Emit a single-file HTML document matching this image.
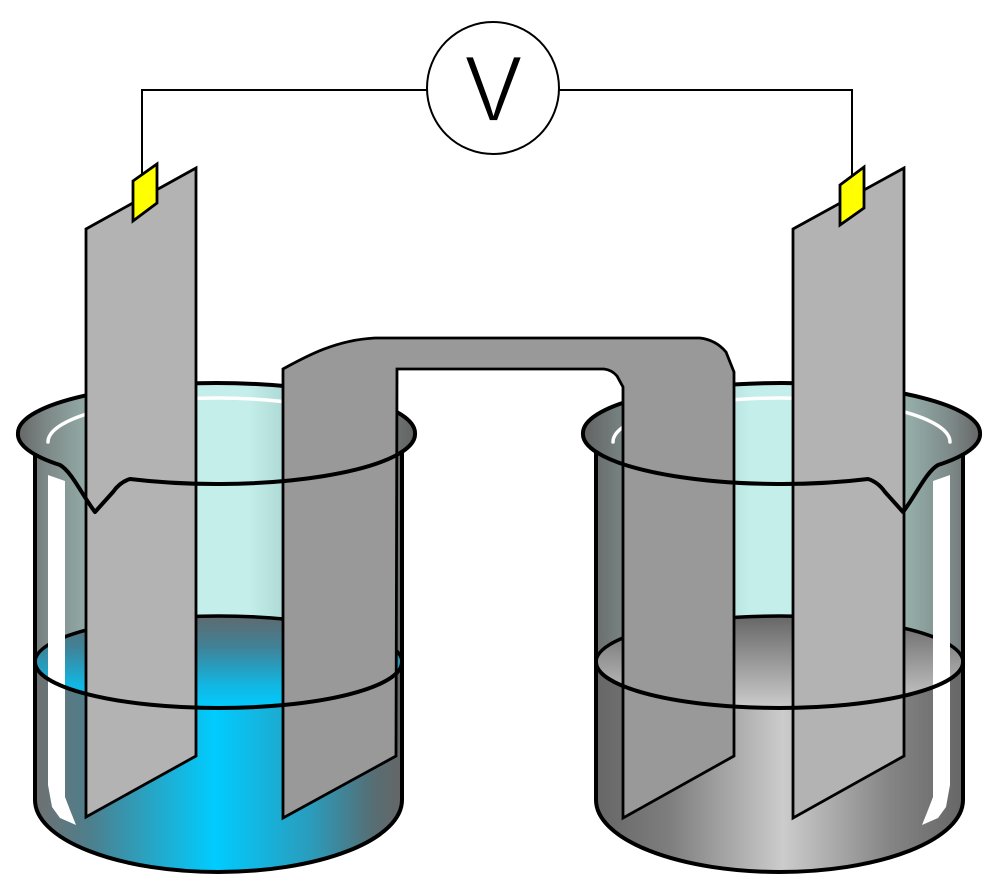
<!DOCTYPE html>
<html>
<head>
<meta charset="utf-8">
<style>
  html,body{margin:0;padding:0;background:#fff;}
  svg{display:block;}
</style>
</head>
<body>
<svg width="1000" height="892" viewBox="0 0 1000 892" xmlns="http://www.w3.org/2000/svg">
  <defs>
    <linearGradient id="glass" gradientUnits="userSpaceOnUse" x1="18" y1="0" x2="415" y2="0">
      <stop offset="0" stop-color="#666666"/>
      <stop offset="0.07" stop-color="#7c8887"/>
      <stop offset="0.17" stop-color="#92aaa6"/>
      <stop offset="0.33" stop-color="#b6ded8"/>
      <stop offset="0.45" stop-color="#c4eeea"/>
      <stop offset="0.58" stop-color="#c4eeea"/>
      <stop offset="0.7" stop-color="#a8d2cd"/>
      <stop offset="0.87" stop-color="#7d8e8c"/>
      <stop offset="1" stop-color="#626262"/>
    </linearGradient>
    <linearGradient id="blueH" gradientUnits="userSpaceOnUse" x1="35" y1="0" x2="402" y2="0">
      <stop offset="0" stop-color="#707070"/>
      <stop offset="0.15" stop-color="#4d7f8d"/>
      <stop offset="0.49" stop-color="#00ccff"/>
      <stop offset="0.75" stop-color="#2a9cbc"/>
      <stop offset="0.92" stop-color="#566e74"/>
      <stop offset="1" stop-color="#666666"/>
    </linearGradient>
    <linearGradient id="blueV" gradientUnits="userSpaceOnUse" x1="0" y1="616" x2="0" y2="708">
      <stop offset="0" stop-color="#5f6a6e"/>
      <stop offset="0.35" stop-color="#3f8399"/>
      <stop offset="0.75" stop-color="#12b6e2"/>
      <stop offset="1" stop-color="#00ccff"/>
    </linearGradient>
    <linearGradient id="grayH" gradientUnits="userSpaceOnUse" x1="35" y1="0" x2="402" y2="0">
      <stop offset="0" stop-color="#666666"/>
      <stop offset="0.2" stop-color="#858585"/>
      <stop offset="0.49" stop-color="#cccccc"/>
      <stop offset="0.8" stop-color="#7e7e7e"/>
      <stop offset="1" stop-color="#666666"/>
    </linearGradient>
    <linearGradient id="grayV" gradientUnits="userSpaceOnUse" x1="0" y1="616" x2="0" y2="708">
      <stop offset="0" stop-color="#666666"/>
      <stop offset="1" stop-color="#cccccc"/>
    </linearGradient>

    <g id="beakerBack">
      <ellipse cx="216.5" cy="433" rx="198.5" ry="50" fill="url(#glass)"/>
      <path d="M35,440 L402,440 L402,800 A183.5,72 0 0 1 35,800 Z" fill="url(#glass)"/>
    </g>
    <g id="beakerLines">
      <path d="M18,433 A198.5,50 0 0 1 415,433" fill="none" stroke="#000" stroke-width="4"/>
      <path d="M35,662 A183.5,46 0 0 1 402,662" fill="none" stroke="#000" stroke-width="3.5"/>
      <polygon points="48,475 65,481 65,797 70,810 76,825 60,818 52,807 48,785" fill="#fff"/>
      <path d="M48,442 A168.5,44 0 0 1 385,442" fill="none" stroke="#fff" stroke-width="3.5" stroke-linecap="round"/>
      <path d="M35,453 L35,800 A183.5,72 0 0 0 402,800 L402,453" fill="none" stroke="#000" stroke-width="4"/>
    </g>
    <g id="beakerFront">
      <path d="M18,433 A198.5,50 0 0 0 60,465 C72,472 82,495 95,512 L113,492 Q120,482 130,479 A198.5,50 0 0 0 415,433" fill="none" stroke="#000" stroke-width="4" stroke-linejoin="round"/>
      <path d="M35,662 A183.5,46 0 0 0 402,662" fill="none" stroke="#000" stroke-width="4"/>
    </g>
  </defs>

  <!-- wires -->
  <path d="M142,175 L142,90 L430,90" fill="none" stroke="#000" stroke-width="2"/>
  <path d="M556,90 L852,90 L852,178" fill="none" stroke="#000" stroke-width="2"/>

  <!-- voltmeter -->
  <circle cx="493" cy="88" r="66" fill="#fff" stroke="#000" stroke-width="2"/>
  <text x="0" y="121" transform="translate(493.5,0) scale(0.92,1)" font-family="Liberation Sans, DejaVu Sans, sans-serif" font-size="94" text-anchor="middle" fill="#000" stroke="#fff" stroke-width="1.8">V</text>

  <!-- left beaker (blue) -->
  <use href="#beakerBack"/>
  <path d="M35,662 L402,662 L402,800 A183.5,72 0 0 1 35,800 Z" fill="url(#blueH)"/>
  <ellipse cx="218.5" cy="662" rx="183.5" ry="46" fill="url(#blueV)"/>
  <use href="#beakerLines"/>

  <!-- right beaker (gray), mirrored -->
  <g transform="matrix(-1,0,0,1,998,0)">
    <use href="#beakerBack"/>
    <path d="M35,662 L402,662 L402,800 A183.5,72 0 0 1 35,800 Z" fill="url(#grayH)"/>
    <ellipse cx="218.5" cy="662" rx="183.5" ry="46" fill="url(#grayV)"/>
    <use href="#beakerLines"/>
  </g>

  <!-- electrodes -->
  <polygon points="86,229 196,168 196,756 86,817" fill="#b3b3b3" stroke="#000" stroke-width="2.8" stroke-linejoin="miter"/>
  <polygon points="793,229 904,168 904,756 793,818" fill="#b3b3b3" stroke="#000" stroke-width="2.8" stroke-linejoin="miter"/>

  <!-- salt bridge -->
  <path d="M283,369 C305,357 335,340 375,338 L700,338 Q716,340 726,352 L734,372 L734,756 L623,818 L623,387 L617,376 Q612,370 604,369 L397,369 L396,756 L283,818 Z" fill="#999999" stroke="#000" stroke-width="2.8" stroke-linejoin="miter"/>

  <!-- clips -->
  <polygon points="133,181 157,164 157,203 133,221" fill="#ffff00" stroke="#000" stroke-width="2.8"/>
  <polygon points="840,185 864,167 864,208 840,225" fill="#ffff00" stroke="#000" stroke-width="2.8"/>

  <!-- front edges -->
  <use href="#beakerFront"/>
  <g transform="matrix(-1,0,0,1,998,0)">
    <use href="#beakerFront"/>
  </g>
</svg>
</body>
</html>
